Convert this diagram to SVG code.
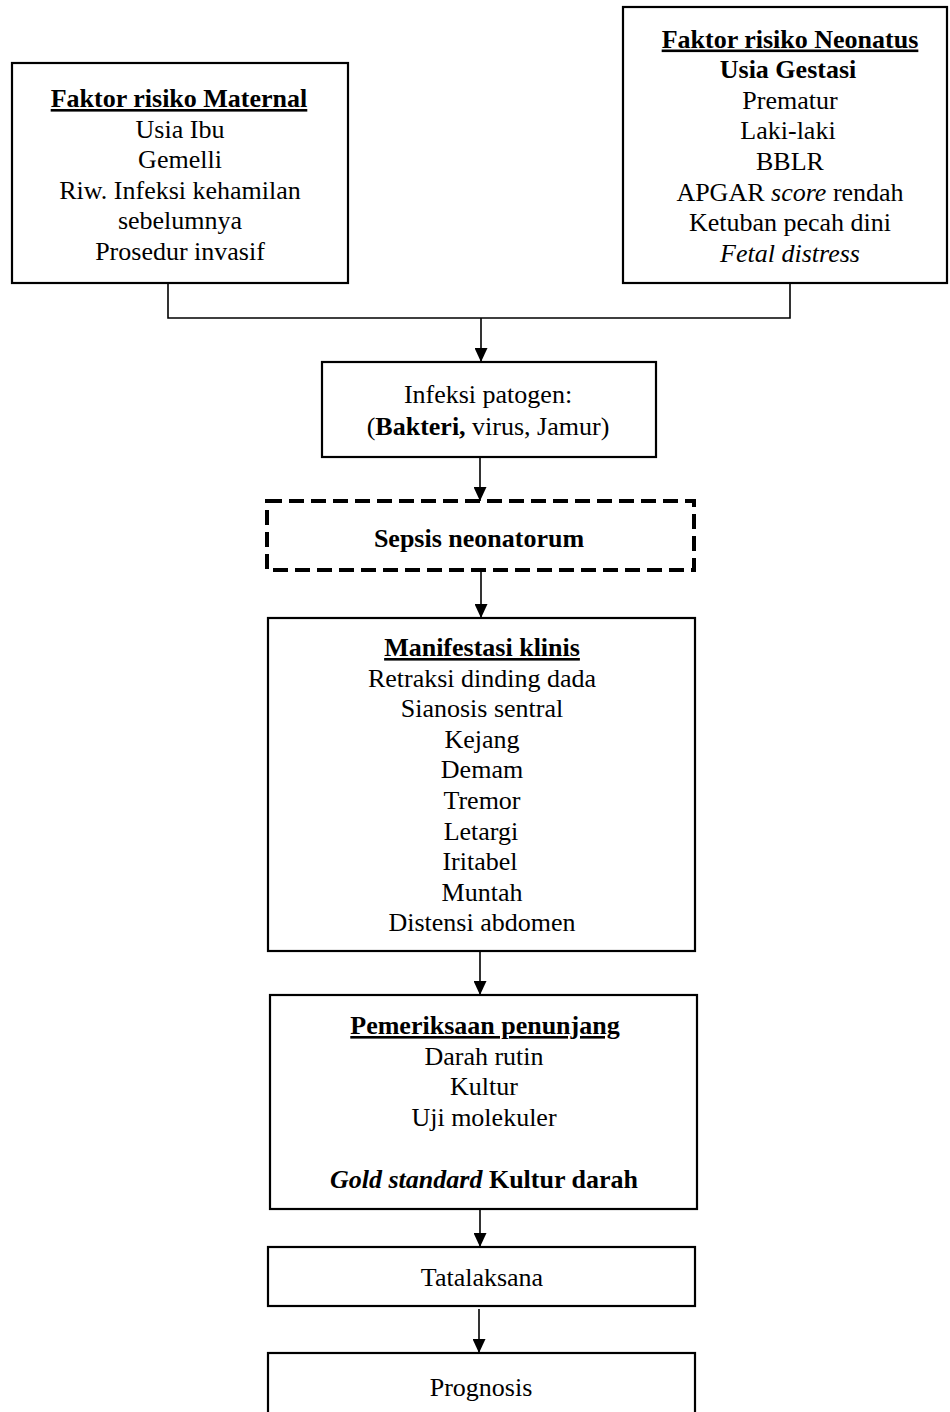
<svg xmlns="http://www.w3.org/2000/svg" width="950" height="1412" viewBox="0 0 950 1412">
<style>
text{font-family:"Liberation Serif","Times New Roman",serif;font-size:26px;fill:#000;text-anchor:middle}
.b{font-weight:bold}
.u{text-decoration:underline}
.i{font-style:italic}
.box{fill:#fff;stroke:#000;stroke-width:2.2}
.dash{fill:#fff;stroke:#000;stroke-width:4;stroke-dasharray:15 7}
.ln{fill:none;stroke:#000;stroke-width:1.6}
</style>
<defs>
<marker id="ah" markerWidth="14" markerHeight="13" refX="14" refY="6.5" orient="auto" markerUnits="userSpaceOnUse">
<path d="M0,0 L14,6.5 L0,13 Z" fill="#000"/>
</marker>
</defs>
<rect width="950" height="1412" fill="#fff"/>
<g id="connectors">
<path class="ln" d="M168,283 V318 H790 V283"/>
<path class="ln" d="M481,318 V362" marker-end="url(#ah)"/>
<path class="ln" d="M480,457 V501" marker-end="url(#ah)"/>
<path class="ln" d="M481,570 V618" marker-end="url(#ah)"/>
<path class="ln" d="M480,951 V995" marker-end="url(#ah)"/>
<path class="ln" d="M480,1205 V1247" marker-end="url(#ah)"/>
<path class="ln" d="M479,1309 V1353" marker-end="url(#ah)"/>
</g>
<g id="maternal">
<rect class="box" x="12" y="63" width="336" height="220"/>
<text x="179" y="107" class="b u">Faktor risiko Maternal</text>
<text x="180" y="137.6">Usia Ibu</text>
<text x="180" y="168.2">Gemelli</text>
<text x="180" y="198.8">Riw. Infeksi kehamilan</text>
<text x="180" y="229.4">sebelumnya</text>
<text x="180" y="260">Prosedur invasif</text>
</g>
<g id="neonatus">
<rect class="box" x="623" y="7" width="324" height="276"/>
<text x="790" y="47.5" class="b u">Faktor risiko Neonatus</text>
<text x="788" y="78.1" class="b">Usia Gestasi</text>
<text x="790" y="108.7">Prematur</text>
<text x="788" y="139.3">Laki-laki</text>
<text x="790" y="169.9">BBLR</text>
<text x="790" y="200.5">APGAR <tspan class="i">score</tspan> rendah</text>
<text x="790" y="231.1">Ketuban pecah dini</text>
<text x="790" y="261.7" class="i">Fetal distress</text>
</g>
<g id="infeksi">
<rect class="box" x="322" y="362" width="334" height="95"/>
<text x="488" y="403">Infeksi patogen:</text>
<text x="488" y="435">(<tspan class="b">Bakteri,</tspan> virus, Jamur)</text>
</g>
<g id="sepsis">
<rect class="dash" x="267" y="501" width="427" height="69"/>
<text x="479" y="547" class="b">Sepsis neonatorum</text>
</g>
<g id="manifestasi">
<rect class="box" x="268" y="618" width="427" height="333"/>
<text x="482" y="656" class="b u">Manifestasi klinis</text>
<text x="482" y="686.6">Retraksi dinding dada</text>
<text x="482" y="717.2">Sianosis sentral</text>
<text x="482" y="747.8">Kejang</text>
<text x="482" y="778.4">Demam</text>
<text x="482" y="809">Tremor</text>
<text x="481" y="839.6">Letargi</text>
<text x="480" y="870.2">Iritabel</text>
<text x="482" y="900.8">Muntah</text>
<text x="482" y="931.4">Distensi abdomen</text>
</g>
<g id="pemeriksaan">
<rect class="box" x="270" y="995" width="427" height="214"/>
<text x="485" y="1034" class="b u">Pemeriksaan penunjang</text>
<text x="484" y="1064.6">Darah rutin</text>
<text x="484" y="1095.2">Kultur</text>
<text x="484" y="1125.8">Uji molekuler</text>
<text x="484" y="1188" class="b"><tspan class="i">Gold standard</tspan> Kultur darah</text>
</g>
<g id="tatalaksana">
<rect class="box" x="268" y="1247" width="427" height="59"/>
<text x="482" y="1286">Tatalaksana</text>
</g>
<g id="prognosis">
<rect class="box" x="268" y="1353" width="427" height="80"/>
<text x="481" y="1396">Prognosis</text>
</g>
</svg>
